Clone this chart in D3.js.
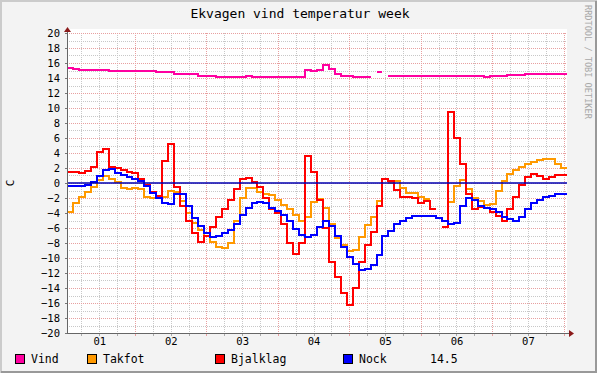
<!DOCTYPE html>
<html>
<head>
<meta charset="utf-8">
<style>
  body { margin: 0; background: #f3f3f3; }
  svg { display: block; font-family: "DejaVu Sans Mono", monospace; }
</style>
</head>
<body>
<svg width="597" height="373"></svg>

<script src="https://d3js.org/d3.v7.min.js"></script>
<script>
  // readings every 2 hours, starting 01 01:08, one week long
  const stepHours = 2;
  const startTime = new Date(2024, 2, 1, 1, 8);

  const seriesNames = ["Vind", "Takfot", "Bjalklag", "Nock"];
  const seriesColors = ["#ff00a0", "#ff9900", "#ff0000", "#0000ff"];
  const lastValue = "14.5";
  const yTicks = d3.range(-20, 21, 2);

  const vind = [15.3, 15.2, 15.1, 15.1, 15.1, 15.1, 15.1, 15.0, 15.0, 15.0,
    15.0, 15.0, 14.9, 14.9, 14.9, 14.8, 14.8, 14.8, 14.6, 14.6,
    14.5, 14.5, 14.3, 14.3, 14.2, 14.1, 14.1, 14.1, 14.1, 14.1,
    14.2, 14.1, 14.1, 14.1, 14.1, 14.1, 14.1, 14.1, 14.1, 14.1,
    15.1, 14.9, 15.1, 15.7, 15.2, 14.5, 14.3, 14.2, 14.1, 14.1,
    14.1, null, 14.8, null, 14.3, 14.3, 14.3, 14.3, 14.3, 14.3,
    14.3, 14.3, 14.2, 14.3, 14.2, 14.2, 14.2, 14.2, 14.2, 14.2,
    14.1, 14.3, 14.3, 14.3, 14.4, 14.4, 14.4, 14.5, 14.5, 14.5,
    14.5, 14.6, 14.6, 14.6];

  const takfot = [-3.8, -2.6, -1.8, -1.2, -0.5, 0.4, 0.9, 0.5, 0.1, -0.6,
    -0.8, -0.6, -0.8, -1.8, -2.0, -1.7, -1.8, -1.1, -1.2, -2.4,
    -4.0, -5.3, -6.2, -7.0, -7.9, -8.5, -8.7, -8.0, -5.0, -2.0,
    -0.6, -0.7, -1.2, -1.5, -1.6, -2.3, -2.9, -3.5, -4.3, -5.1,
    -4.5, -2.5, -2.2, -3.3, -5.5, -7.3, -8.2, -9.1, -9.0, -7.2,
    -5.6, -4.5, -2.4, null, 0.0, 0.3, -0.6, -1.3, -1.4, -1.8,
    -2.2, null, null, null, -2.5, -0.4, 0.4, -0.8, -2.0, -2.4,
    -2.9, -2.8, -1.0, 0.3, 1.2, 1.7, 2.1, 2.5, 2.8, 3.1,
    3.2, 3.2, 2.6, 2.0];

  const bjalklag = [1.5, 1.5, 1.3, 1.6, 2.1, 4.2, 4.5, 2.2, 2.0, 1.7,
    1.5, 1.4, 0.5, -0.3, -1.2, -1.7, 3.0, 5.2, -0.5, -3.0,
    -5.0, -6.6, -7.8, -7.0, -5.8, -4.5, -3.5, -2.3, -0.8, 0.5,
    0.7, 0.2, -0.5, -2.0, -3.5, -4.0, -5.5, -8.0, -9.5, -8.0,
    3.6, 1.5, -2.3, -6.0, -10.5, -12.5, -14.7, -16.3, -14.0, -10.5,
    -8.3, -6.5, -3.0, 0.6, 0.3, -0.9, -1.8, -1.8, -2.0, -2.6,
    -2.4, -3.5, null, -5.9, 9.5, 6.0, 2.5, -1.5, -3.5, -3.2,
    -3.3, -3.8, -4.4, -5.0, -3.5, -1.8, -0.3, 0.8, 1.2, 0.9,
    0.5, 0.8, 1.0, 1.0];

  const nock = [-0.4, -0.4, -0.4, -0.3, 0.1, 0.9, 1.7, 1.9, 1.4, 1.1,
    0.85, 0.5, 0.3, -0.4, -1.4, -2.0, -2.6, -2.8, -1.5, -1.5,
    -3.0, -4.6, -5.7, -6.7, -7.2, -7.1, -6.7, -6.2, -5.4, -4.3,
    -3.3, -2.7, -2.5, -2.7, -3.3, -3.7, -4.2, -5.0, -6.1, -6.9,
    -7.2, -6.9, -5.8, -5.1, -5.7, -7.0, -8.5, -9.8, -10.8, -11.6,
    -11.5, -10.9, -9.6, -7.0, -6.4, -5.5, -5.0, -4.7, -4.4, -4.4,
    -4.4, -4.4, -4.6, -5.1, -5.5, -5.3, -3.0, -2.0, -2.3, -3.1,
    -3.3, -3.5, -3.9, -4.5, -4.8, -5.0, -4.5, -3.5, -2.7, -2.3,
    -1.9, -1.7, -1.5, -1.5];

  const allSeries = [vind, takfot, bjalklag, nock];

  const svg = d3.select("svg"),
        width = +svg.attr("width"),
        height = +svg.attr("height");

  // plot box
  const pLeft = 67, pRight = 567, pTop = 33, pBottom = 333;
  const endTime = d3.timeDay.offset(startTime, 7);
  const tAt = i => d3.timeHour.offset(startTime, i * stepHours);

  const x = d3.scaleTime().domain([startTime, endTime]).range([pLeft, pRight]);
  const y = d3.scaleLinear().domain([-20, 20]).range([pBottom, pTop]);

  // background + 3d-ish border
  svg.append("rect").attr("width", width).attr("height", height).attr("fill", "#f3f3f3");
  svg.append("path").attr("d", `M1,${height} V1 H${width}`).attr("fill", "none")
    .attr("stroke", "#cbcbcb").attr("stroke-width", 2);
  svg.append("path").attr("d", `M1,${height - 1} H${width - 1} V1`).attr("fill", "none")
    .attr("stroke", "#999").attr("stroke-width", 2);

  // canvas
  svg.append("rect").attr("x", pLeft).attr("y", pTop - 4)
    .attr("width", pRight - pLeft).attr("height", pBottom - pTop + 4).attr("fill", "#fff");

  // grid
  const grid = svg.append("g").attr("shape-rendering", "crispEdges")
    .attr("stroke-dasharray", "1,1").attr("stroke-width", 1);

  const minorY = d3.range(-19, 20, 2);
  grid.selectAll(".gy").data(minorY).join("line")
    .attr("x1", pLeft).attr("x2", pRight)
    .attr("y1", d => Math.round(y(d)) + 0.5).attr("y2", d => Math.round(y(d)) + 0.5)
    .attr("stroke", "#c8c8c8");

  const sixHours = d3.timeHour.every(6).range(startTime, endTime)
    .filter(d => d.getHours() !== 0);
  grid.selectAll(".gx").data(sixHours).join("line")
    .attr("x1", d => Math.round(x(d)) + 0.5).attr("x2", d => Math.round(x(d)) + 0.5)
    .attr("y1", pTop).attr("y2", pBottom)
    .attr("stroke", "#c8c8c8");

  grid.selectAll(".my").data(yTicks).join("line")
    .attr("x1", pLeft).attr("x2", pRight)
    .attr("y1", d => Math.round(y(d)) + 0.5).attr("y2", d => Math.round(y(d)) + 0.5)
    .attr("stroke", "#e8a0a0");

  const midnights = d3.timeDay.range(startTime, endTime);
  grid.selectAll(".mx").data(midnights).join("line")
    .attr("x1", d => Math.round(x(d)) + 0.5).attr("x2", d => Math.round(x(d)) + 0.5)
    .attr("y1", pTop).attr("y2", pBottom)
    .attr("stroke", "#e8a0a0");

  // axes labels
  const yAxis = svg.append("g")
    .attr("transform", `translate(${pLeft},0)`)
    .call(d3.axisLeft(y).tickValues(yTicks).tickSize(2).tickPadding(5));
  yAxis.select(".domain").remove();
  yAxis.selectAll("text").attr("font-size", 10.5).attr("font-family", "DejaVu Sans Mono").attr("fill", "#000");
  yAxis.selectAll("line").attr("stroke", "#777");

  // first label day is the day the week starts in, placed at noon
  const noons = [d3.timeDay.floor(startTime), ...midnights].slice(0, 7).map(d => d3.timeHour.offset(d, 12));
  const xAxis = svg.append("g")
    .attr("transform", `translate(0,${pBottom})`)
    .call(d3.axisBottom(x).tickValues(noons).tickFormat(d3.timeFormat("%d")).tickSize(0).tickPadding(5));
  xAxis.select(".domain").remove();
  xAxis.selectAll("text").attr("font-size", 10.5).attr("font-family", "DejaVu Sans Mono").attr("fill", "#000");

  // small tick marks below x axis
  svg.append("g").selectAll("line").data(d3.timeHour.every(6).range(startTime, endTime)).join("line")
    .attr("x1", d => Math.round(x(d)) + 0.5).attr("x2", d => Math.round(x(d)) + 0.5)
    .attr("y1", pBottom).attr("y2", pBottom + 3)
    .attr("stroke", d => d.getHours() === 0 ? "#e8a0a0" : "#aaa");

  // data lines, drawn as steps
  const stepPoints = vals => vals.flatMap((v, i) => [
    { t: tAt(i), v }, { t: tAt(i + 1), v }
  ]);
  const line = d3.line()
    .defined(d => d.v != null)
    .x(d => x(d.t))
    .y(d => Math.round(y(d.v)));

  svg.append("g").selectAll("path").data(allSeries).join("path")
    .attr("d", d => line(stepPoints(d)))
    .attr("fill", "none")
    .attr("stroke", (d, i) => seriesColors[i])
    .attr("stroke-width", 2)
    .attr("shape-rendering", "crispEdges");

  // zero rule
  svg.append("line")
    .attr("x1", pLeft).attr("x2", pRight)
    .attr("y1", y(0)).attr("y2", y(0))
    .attr("stroke", "#0000b0").attr("stroke-width", 1.5);

  // axis lines + arrows
  svg.append("line").attr("x1", pLeft + 0.5).attr("x2", pLeft + 0.5)
    .attr("y1", pBottom).attr("y2", pTop - 4).attr("stroke", "#666");
  svg.append("line").attr("x1", pLeft).attr("x2", pRight + 4)
    .attr("y1", pBottom + 0.5).attr("y2", pBottom + 0.5).attr("stroke", "#666");
  svg.append("path").attr("d", `M${pLeft - 3},${pTop - 1} L${pLeft + 0.5},${pTop - 6} L${pLeft + 4},${pTop - 1} Z`)
    .attr("fill", "#8b1a1a");
  svg.append("path").attr("d", `M${pRight + 2},${pBottom - 3} L${pRight + 7},${pBottom + 0.5} L${pRight + 2},${pBottom + 4} Z`)
    .attr("fill", "#8b1a1a");

  // title and side texts
  svg.append("text").attr("x", 300).attr("y", 18)
    .attr("text-anchor", "middle").attr("font-size", 13)
    .text("Ekvagen vind temperatur week");

  svg.append("text").attr("transform", `translate(14,${y(0)}) rotate(-90)`)
    .attr("text-anchor", "middle").attr("font-size", 11)
    .text("C");

  svg.append("text").attr("transform", "translate(585,5) rotate(90)")
    .attr("font-size", 8.6).attr("fill", "#a8a8a8")
    .text("RRDTOOL / TOBI OETIKER");

  // legend
  const legendX = [15, 87, 215, 343];
  const legend = svg.append("g").selectAll("g").data(seriesNames).join("g")
    .attr("transform", (d, i) => `translate(${legendX[i]},354)`);
  legend.append("rect").attr("x", 0.5).attr("y", 0.5).attr("width", 9).attr("height", 9)
    .attr("fill", (d, i) => seriesColors[i]).attr("stroke", "#000");
  legend.append("text").attr("x", 16).attr("y", 9)
    .attr("font-size", 11.5).text(d => d);

  svg.append("text").attr("x", 430).attr("y", 363)
    .attr("font-size", 11.5).text(lastValue);
</script>
</body>
</html>
